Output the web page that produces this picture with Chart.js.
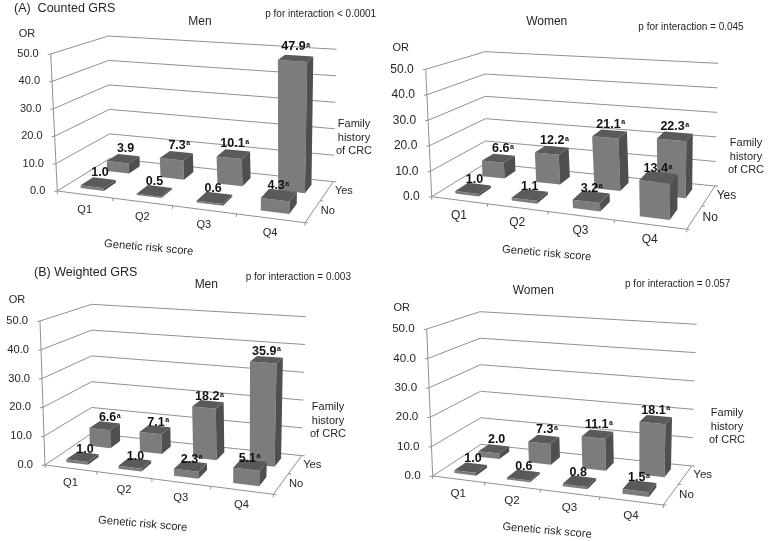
<!DOCTYPE html>
<html>
<head>
<meta charset="utf-8">
<style>
  html, body { margin: 0; padding: 0; background: #fff; }
  canvas { position: absolute; }
</style>
<script src="https://cdn.jsdelivr.net/npm/chart.js@4"></script>
</head>
<body>
<canvas id="chartAMen" style="left:0;top:0" width="385" height="265"></canvas>
<canvas id="chartAWomen" style="left:385px;top:0" width="384" height="265"></canvas>
<canvas id="chartBMen" style="left:0;top:265px" width="385" height="276"></canvas>
<canvas id="chartBWomen" style="left:385px;top:265px" width="384" height="276"></canvas>
<script>
const quartiles = ["Q1", "Q2", "Q3", "Q4"];
const familyHistory = ["No", "Yes"];
const orTicks = [0, 10, 20, 30, 40, 50];

const aMenNo = [1.0, 0.5, 0.6, 4.3];
const aMenYes = [3.9, 7.3, 10.1, 47.9];
const aMenNoSup = [0, 0, 0, 1];
const aMenYesSup = [0, 1, 1, 1];

const aWomenNo = [1.0, 1.1, 3.2, 13.4];
const aWomenYes = [6.6, 12.2, 21.1, 22.3];
const aWomenNoSup = [0, 0, 1, 1];
const aWomenYesSup = [1, 1, 1, 1];

const bMenNo = [1.0, 1.0, 2.3, 5.1];
const bMenYes = [6.6, 7.1, 18.2, 35.9];
const bMenNoSup = [0, 0, 1, 1];
const bMenYesSup = [1, 1, 1, 1];

const bWomenNo = [1.0, 0.6, 0.8, 1.5];
const bWomenYes = [2.0, 7.3, 11.1, 18.1];
const bWomenNoSup = [0, 0, 0, 1];
const bWomenYesSup = [0, 1, 1, 1];

const FONT = '"Liberation Sans", Arial, sans-serif';
const INK = "#262626";
const GRID = "#909090";

// homography unit square -> quad (p00, p10, p11, p01)
function quadMap(q) {
  const [a, b, c, d] = q;
  const dx1 = b[0] - c[0], dx2 = d[0] - c[0], sx = a[0] - b[0] + c[0] - d[0];
  const dy1 = b[1] - c[1], dy2 = d[1] - c[1], sy = a[1] - b[1] + c[1] - d[1];
  const den = dx1 * dy2 - dx2 * dy1;
  const g = (sx * dy2 - dx2 * sy) / den;
  const h = (dx1 * sy - sx * dy1) / den;
  return (u, v) => {
    const w = g * u + h * v + 1;
    return [
      ((b[0] - a[0] + g * b[0]) * u + (d[0] - a[0] + h * d[0]) * v + a[0]) / w,
      ((b[1] - a[1] + g * b[1]) * u + (d[1] - a[1] + h * d[1]) * v + a[1]) / w
    ];
  };
}

const BAR_DEPTH = 0.23;

const box3d = {
  id: "box3d",
  beforeDatasetsDraw(chart, args, opts) {
    const ctx = chart.ctx, area = chart.chartArea;
    const xs = chart.scales.x, ys = chart.scales.y;
    const ox = opts.origin[0], oy = opts.origin[1];
    const floor = quadMap(opts.floor), roof = quadMap(opts.roof);
    // u along categories, d depth (0 front), h value fraction
    const proj = (u, d, h) => {
      const a = floor(u, d), b = roof(u, d);
      return [a[0] + (b[0] - a[0]) * h - ox, a[1] + (b[1] - a[1]) * h - oy];
    };
    const uOf = px => (px - area.left) / area.width;
    const hOf = px => (area.bottom - px) / area.height;

    const line = (pts, color) => {
      ctx.beginPath();
      pts.forEach((p, i) => i ? ctx.lineTo(p[0], p[1]) : ctx.moveTo(p[0], p[1]));
      ctx.strokeStyle = color || GRID;
      ctx.lineWidth = 1;
      ctx.stroke();
    };
    const face = (pts, color) => {
      ctx.beginPath();
      pts.forEach((p, i) => i ? ctx.lineTo(p[0], p[1]) : ctx.moveTo(p[0], p[1]));
      ctx.closePath();
      ctx.fillStyle = color;
      ctx.fill();
    };
    const text = (s, x, y, font, align, color) => {
      ctx.font = font;
      ctx.textAlign = align || "center";
      ctx.textBaseline = "middle";
      ctx.fillStyle = color || INK;
      ctx.fillText(s, x, y);
    };
    const tickFont = opts.tickSize + "px " + FONT;

    // walls and value ticks
    ys.ticks.forEach(t => {
      const h = hOf(ys.getPixelForValue(t.value));
      const a = proj(0, 0, h);
      line([[a[0] - 3, a[1] + 0.5], a, proj(0, 1, h), proj(1, 1, h)]);
      text(t.value.toFixed(1), a[0] - 12, a[1], tickFont, "right");
    });
    line([proj(0, 0, 0), proj(0, 0, 1)]);

    // floor edges
    line([proj(0, 0, 0), proj(1, 0, 0), proj(1, 1, 0)]);
    quartiles.forEach((q, i) => {
      const u = uOf(xs.getPixelForTick(i));
      const p = proj(u - 0.5 / quartiles.length, 0, 0);
      line([p, [p[0], p[1] + 3]]);
      const c = proj(u, 0, 0);
      text(q, c[0], c[1] + 15, tickFont);
    });
    const end = proj(1, 0, 0);
    line([end, [end[0], end[1] + 3]]);
    familyHistory.forEach((name, row) => {
      const p = proj(1, row / familyHistory.length, 0);
      line([p, [p[0] + 3, p[1]]]);
      const c = proj(1, (row + 0.5) / familyHistory.length, 0);
      text(name, c[0] + 8, c[1], tickFont, "left");
    });
    const corner = proj(1, 1, 0);
    line([corner, [corner[0] + 3, corner[1]]]);

    // bars: back row first
    const labels = [];
    for (let row = chart.data.datasets.length - 1; row >= 0; row--) {
      const meta = chart.getDatasetMeta(row);
      const d0 = (row + 0.5) / chart.data.datasets.length - BAR_DEPTH / 2;
      const d1 = d0 + BAR_DEPTH;
      meta.data.forEach((el, i) => {
        const u0 = uOf(el.x - el.width / 2), u1 = uOf(el.x + el.width / 2);
        const h = hOf(el.y);
        face([proj(u0, d0, 0), proj(u1, d0, 0), proj(u1, d0, h), proj(u0, d0, h)], "#7c7c7c");
        face([proj(u1, d0, 0), proj(u1, d1, 0), proj(u1, d1, h), proj(u1, d0, h)], "#4f4f4f");
        face([proj(u0, d0, h), proj(u1, d0, h), proj(u1, d1, h), proj(u0, d1, h)], "#5a5a5a");
        const um = (u0 + u1) / 2;
        const top = proj(um, d0, h);
        labels.push({
          s: chart.data.datasets[row].data[i].toFixed(1),
          sup: chart.data.datasets[row].sup[i],
          x: top[0] + 9 * (1 - um), y: top[1] - opts.labelGap
        });
      });
    }
    labels.forEach(l => {
      ctx.font = "bold 12.5px " + FONT;
      const w = ctx.measureText(l.s).width;
      text(l.s, l.x, l.y, "bold 12.5px " + FONT, "center", "#111");
      if (l.sup) text("a", l.x + w / 2 + 2.5, l.y - 2, "bold 7px " + FONT, "center", "#111");
    });

    // free captions
    opts.captions.forEach(c => {
      ctx.save();
      ctx.translate(c.x - ox, c.y - oy);
      ctx.rotate((c.rot || 0) * Math.PI / 180);
      text(c.s, 0, 0, (c.size || 11) + "px " + FONT, c.align || "center");
      ctx.restore();
    });
    return false;
  }
};

function panel(id, noVals, yesVals, noSup, yesSup, geo) {
  new Chart(document.getElementById(id), {
    type: "bar",
    data: {
      labels: quartiles,
      datasets: [
        { label: familyHistory[0], data: noVals, sup: noSup, barPercentage: 0.42, categoryPercentage: 1, grouped: false },
        { label: familyHistory[1], data: yesVals, sup: yesSup, barPercentage: 0.42, categoryPercentage: 1, grouped: false }
      ]
    },
    options: {
      responsive: false,
      animation: false,
      events: [],
      layout: { padding: 0 },
      scales: {
        x: { display: false },
        y: { display: false, min: orTicks[0], max: orTicks[orTicks.length - 1], ticks: { stepSize: 10 } }
      },
      plugins: { legend: { display: false }, tooltip: { enabled: false }, box3d: geo }
    },
    plugins: [box3d]
  });
}

function family(x, y) {
  return [
    { s: "Family", x: x, y: y },
    { s: "history", x: x, y: y + 13.5 },
    { s: "of CRC", x: x, y: y + 27 }
  ];
}

panel("chartAMen", aMenNo, aMenYes, aMenNoSup, aMenYesSup, {
  origin: [0, 0], tickSize: 11, labelGap: 14,
  floor: [[57.3, 191], [305, 222.7], [333.3, 181.7], [110, 158.3]],
  roof: [[50.7, 54], [311, 75], [336.7, 49.3], [108.3, 36]],
  captions: [
    { s: "(A)  Counted GRS", x: 14, y: 9, size: 12.5, align: "left" },
    { s: "Men", x: 200, y: 22, size: 12 },
    { s: "p for interaction < 0.0001", x: 320.7, y: 14, size: 10 },
    { s: "OR", x: 27, y: 34 },
    { s: "Genetic risk score", x: 148.7, y: 247.7, size: 11.2, rot: 5 }
  ].concat(family(354, 124))
});

panel("chartAWomen", aWomenNo, aWomenYes, aWomenNoSup, aWomenYesSup, {
  origin: [385, 0], tickSize: 12, labelGap: 13,
  floor: [[431.7, 196.7], [686.7, 229.3], [715, 186], [485.7, 163.3]],
  roof: [[425.7, 69.3], [692.5, 90], [718.3, 63.3], [485, 51.7]],
  captions: [
    { s: "Women", x: 546.7, y: 22, size: 12 },
    { s: "p for interaction = 0.045", x: 691, y: 27, size: 10 },
    { s: "OR", x: 400.7, y: 48 },
    { s: "Genetic risk score", x: 546.7, y: 253.3, size: 11.2, rot: 5 }
  ].concat(family(746, 143))
});

panel("chartBMen", bMenNo, bMenYes, bMenNoSup, bMenYesSup, {
  origin: [0, 265], tickSize: 11.2, labelGap: 11,
  floor: [[45, 465], [273.3, 494.3], [301.7, 455.7], [91.7, 433.3]],
  roof: [[40, 321], [279, 340], [305.7, 316.7], [91.7, 304.3]],
  captions: [
    { s: "(B) Weighted GRS", x: 34, y: 273, size: 12.5, align: "left" },
    { s: "Men", x: 206.3, y: 285, size: 12 },
    { s: "p for interaction = 0.003", x: 298.3, y: 277, size: 10 },
    { s: "OR", x: 17, y: 300 },
    { s: "Genetic risk score", x: 142.7, y: 524, size: 11.2, rot: 5 }
  ].concat(family(328, 407))
});

panel("chartBWomen", bWomenNo, bWomenYes, bWomenNoSup, bWomenYesSup, {
  origin: [385, 265], tickSize: 11.6, labelGap: 13,
  floor: [[432.7, 476], [663.3, 505], [691.7, 466], [481, 444.3]],
  roof: [[426.7, 329], [669, 349], [696.7, 324.3], [480, 311.7]],
  captions: [
    { s: "Women", x: 533.3, y: 291, size: 12 },
    { s: "p for interaction = 0.057", x: 677.7, y: 284, size: 10 },
    { s: "OR", x: 401.7, y: 308 },
    { s: "Genetic risk score", x: 547, y: 530.7, size: 11.2, rot: 5 }
  ].concat(family(727, 413))
});
</script>
</body>
</html>
